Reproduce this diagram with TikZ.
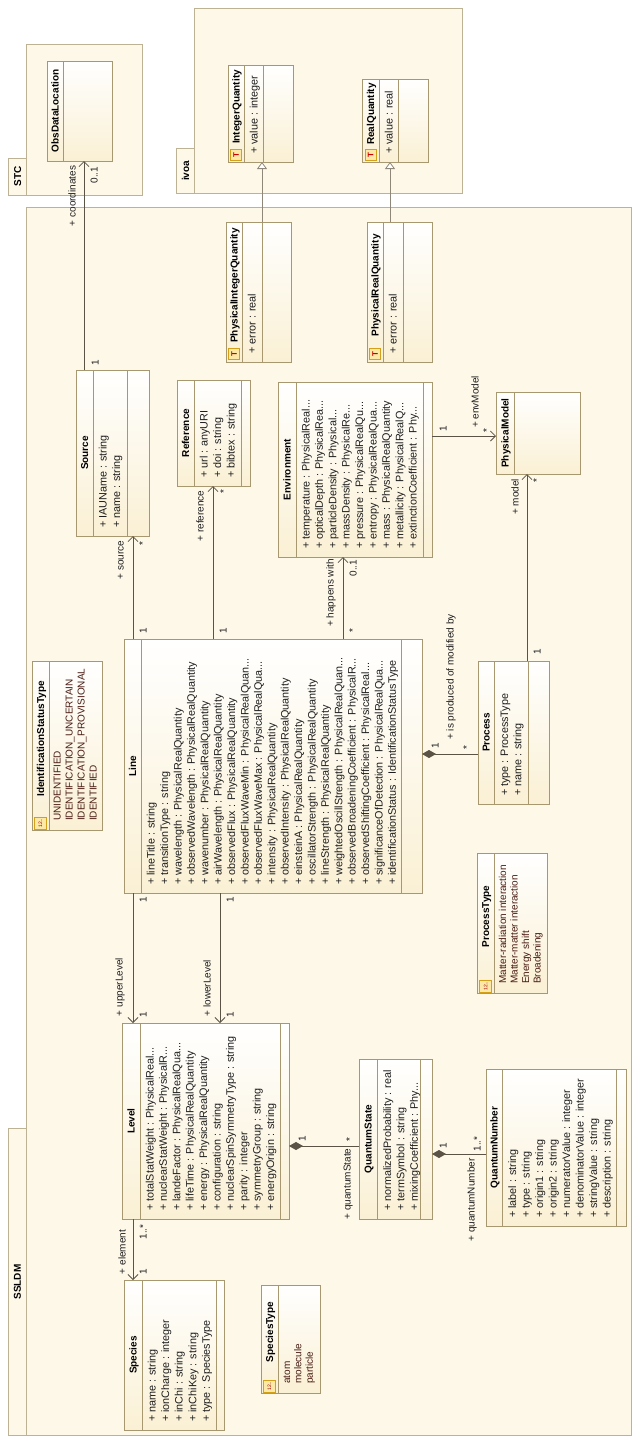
\documentclass[tikz,border=0pt]{standalone}
\usepackage{fontspec}
\setmainfont{Liberation Sans}
\usetikzlibrary{arrows.meta}
\definecolor{pkgfill}{HTML}{FEF8E9}
\definecolor{pkgline}{HTML}{BDB394}
\definecolor{clsline}{HTML}{A89870}
\definecolor{clsbot}{HTML}{FAF0D4}
\definecolor{conn}{HTML}{5A5346}
\definecolor{gen}{HTML}{8F887A}
\definecolor{txt}{HTML}{1E1E1E}
\definecolor{lit}{HTML}{4A1C14}
\definecolor{icoline}{HTML}{D4A017}
\definecolor{icofill}{HTML}{FCE9A8}
\newcommand{\attrfont}{\fontsize{10.8}{13}\selectfont}
\newcommand{\litfont}{\fontsize{10}{12}\selectfont}
\newcommand{\lblfont}{\fontsize{10}{12}\selectfont}
\newcommand{\ttlfont}{\fontsize{10}{12}\selectfont\bfseries}
\newcommand{\ddd}{.{}.{}.}
\tikzset{
  pkg/.style={draw=pkgline, fill=pkgfill, line width=0.9pt, inner sep=0pt, outer sep=0pt},
  cls/.style={draw=clsline, top color=white, bottom color=clsbot, line width=0.9pt, inner sep=0pt, outer sep=0pt},
  clsrule/.style={draw=clsline, line width=0.8pt},
  ctitle/.style={rotate=90, inner sep=0pt, font=\ttlfont, text=black, text height=7.2pt, text depth=0pt, anchor=center},
  cattr/.style={rotate=90, inner sep=0pt, font=\attrfont, text=txt, anchor=base west},
  clit/.style={rotate=90, inner sep=0pt, font=\litfont, text=lit, anchor=base west},
  lbl/.style={rotate=90, inner sep=0pt, font=\lblfont, text=txt, text height=7pt, text depth=0pt, anchor=center},
  assoc/.style={draw=conn, line width=0.8pt, -{Straight Barb[length=5pt,width=10pt]}},
  comp/.style={draw=conn, line width=0.8pt, {Diamond[length=14pt,width=8pt]}-},
  genl/.style={draw=gen, line width=0.8pt, -{Triangle[open,length=7pt,width=10pt,fill=white]}},
  dticon/.style={rotate=90, draw=icoline, fill=icofill, line width=0.8pt, minimum size=11pt, inner sep=0pt, text=red!80!black, font=\fontsize{8}{8}\selectfont\bfseries},
  enicon/.style={rotate=90, draw=icoline, fill=icofill, line width=0.8pt, minimum size=12pt, inner sep=0pt, text=red!60!black, font=\fontsize{5}{5}\selectfont},
}
% #1 id, #2 x1, #3 y1, #4 x2, #5 y2, #6 first separator, #7 second separator (may be empty)
\newcommand{\umlframe}[7]{%
  \pgfmathsetmacro{\cW}{#4-#2}%
  \pgfmathsetmacro{\cH}{#5-#3}%
  \pgfmathsetmacro{\cX}{(#2+#4)/2}%
  \pgfmathsetmacro{\cY}{-(#3+#5)/2}%
  \node[cls, minimum width=\cW pt, minimum height=\cH pt] (#1) at (\cX,\cY) {};
  \draw[clsrule] (#6,-#3) -- (#6,-#5);
  \ifx&#7&\else\draw[clsrule] (#7,-#3) -- (#7,-#5);\fi
}
% #1 id, #2 style, #3 first baseline x, #4 step, #5 start y, #6 list
\newcommand{\umltexts}[6]{%
  \foreach \itm [count=\idx] in {#6} {%
    \pgfmathsetmacro{\aX}{#3+(\idx-1)*#4}%
    \node[#2] (#1-\idx) at (\aX,-#5) {\itm};
  }%
}
\begin{document}
\begin{tikzpicture}[x=1pt,y=1pt]
\useasboundingbox (0,0) rectangle (636,-1438);
% ---------- packages ----------
\node[pkg, minimum width=115.6pt, minimum height=150.7pt] (stc) at (84.5,-119.65) {};
\node[pkg, minimum width=18.4pt, minimum height=36.7pt] (stctab) at (17.5,-176.65) {};
\node[ctitle] (stclbl) at (17.5,-176.65) {STC};
\node[pkg, minimum width=268.4pt, minimum height=185pt] (ivoa) at (328.5,-100.8) {};
\node[pkg, minimum width=17.6pt, minimum height=45pt] (ivoatab) at (185.5,-170.8) {};
\node[ctitle] (ivoalbl) at (185.5,-170.8) {ivoa};
\node[pkg, minimum width=605pt, minimum height=1228pt] (ssldm) at (328.5,-821.3) {};
\node[pkg, minimum width=17.7pt, minimum height=306.6pt] (ssldmtab) at (17.15,-1282) {};
\node[ctitle] (ssldmlbl) at (17.15,-1282) {SSLDM};
% ---------- classes ----------
\umlframe{cObs}{47}{61}{112}{161}{63}{}
\node[ctitle] (cObs-t) at (55,-111) {ObsDataLocation};

\umlframe{cIQ}{228}{65}{293}{162}{244}{263}
\node[dticon] (cIQ-i) at (236,-155) {T};
\node[ctitle] (cIQ-t) at (236,-107) {IntegerQuantity};
\umltexts{cIQ}{cattr}{257.7}{13.4}{154}{+ value : integer}

\umlframe{cRQ}{362}{79}{428}{162}{379}{398}
\node[dticon] (cRQ-i) at (370.5,-155) {T};
\node[ctitle] (cRQ-t) at (370.5,-114) {RealQuantity};
\umltexts{cRQ}{cattr}{392.7}{13.4}{154}{+ value : real}

\umlframe{cPIQ}{226}{222}{291}{362}{242}{262}
\node[dticon] (cPIQ-i) at (234,-354) {T};
\node[ctitle] (cPIQ-t) at (234,-285.5) {PhysicalIntegerQuantity};
\umltexts{cPIQ}{cattr}{255.7}{13.4}{354}{+ error : real}

\umlframe{cPRQ}{367}{222}{432}{362}{383}{403}
\node[dticon] (cPRQ-i) at (375,-354) {T};
\node[ctitle] (cPRQ-t) at (375,-285.5) {PhysicalRealQuantity};
\umltexts{cPRQ}{cattr}{396.7}{13.4}{354}{+ error : real}

\umlframe{cSrc}{76}{370}{149}{536}{93}{127}
\node[ctitle] (cSrc-t) at (84.5,-453) {Source};
\umltexts{cSrc}{cattr}{106.7}{13.4}{528}{+ IAUName : string, + name : string}

\umlframe{cRef}{177}{380}{250}{486}{194}{241}
\node[ctitle] (cRef-t) at (185.5,-433) {Reference};
\umltexts{cRef}{cattr}{207.7}{13.4}{478}{+ url : anyURI, + doi : string, + bibtex : string}

\umlframe{cEnv}{278}{382}{432}{557}{296}{423}
\node[ctitle] (cEnv-t) at (287,-469.5) {Environment};
\umltexts{cEnv}{cattr}{309.5}{13.4}{549}{+ temperature : PhysicalReal\ddd, + opticalDepth : PhysicalRea\ddd, + particleDensity : Physical\ddd, + massDensity : PhysicalRe\ddd, + pressure : PhysicalRealQu\ddd, + entropy : PhysicalRealQua\ddd, + mass : PhysicalRealQuantity, + metallicity : PhysicalRealQ\ddd, + extinctionCoefficient : Phy\ddd}

\umlframe{cPM}{496}{392}{580}{474}{514}{}
\node[ctitle] (cPM-t) at (505,-433) {PhysicalModel};

\umlframe{cLine}{124}{639}{422}{893}{141}{401}
\node[ctitle] (cLine-t) at (132.5,-766) {Line};
\umltexts{cLine}{cattr}{154.7}{13.4}{885}{+ lineTitle : string, + transitionType : string, + wavelength : PhysicalRealQuantity, + observedWavelength : PhysicalRealQuantity, + wavenumber : PhysicalRealQuantity, + airWavelength : PhysicalRealQuantity, + observedFlux : PhysicalRealQuantity, + observedFluxWaveMin : PhysicalRealQuan\ddd, + observedFluxWaveMax : PhysicalRealQua\ddd, + intensity : PhysicalRealQuantity, + observedIntensity : PhysicalRealQuantity, + einsteinA : PhysicalRealQuantity, + oscillatorStrength : PhysicalRealQuantity, + lineStrength : PhysicalRealQuantity, + weightedOscillStrength : PhysicalRealQuan\ddd, + observedBroadeningCoefficient : PhysicalR\ddd, + observedShiftingCoefficient : PhysicalReal\ddd, + significanceOfDetection : PhysicalRealQua\ddd, + identificationStatus : IdentificationStatusType}

\umlframe{cIST}{32}{661}{102}{830}{49}{}
\node[enicon] (cIST-i) at (40.5,-823) {12..};
\node[ctitle] (cIST-t) at (40.5,-739) {IdentificationStatusType};
\umltexts{cIST}{clit}{60.5}{12}{821}{UNIDENTIFIED, IDENTIFICATION\_UNCERTAIN, IDENTIFICATION\_PROVISIONAL, IDENTIFIED}

\umlframe{cLvl}{122}{1023}{289}{1219}{140}{280}
\node[ctitle] (cLvl-t) at (131,-1121) {Level};
\umltexts{cLvl}{cattr}{153.5}{13.4}{1211}{+ totalStatWeight : PhysicalReal\ddd, + nuclearStatWeight : PhysicalR\ddd, + landeFactor : PhysicalRealQua\ddd, + lifeTime : PhysicalRealQuantity, + energy : PhysicalRealQuantity, + configuration : string, + nuclearSpinSymmetryType : string, + parity : integer, + symmetryGroup : string, + energyOrigin : string}

\umlframe{cSpc}{124}{1280}{224}{1430}{142}{216}
\node[ctitle] (cSpc-t) at (133,-1355) {Species};
\umltexts{cSpc}{cattr}{155.5}{13.6}{1422}{+ name : string, + ionCharge : integer, + inChi : string, + inChiKey : string, + type : SpeciesType}

\umlframe{cSpT}{261}{1285}{320}{1393}{278}{}
\node[enicon] (cSpT-i) at (269.5,-1386) {12..};
\node[ctitle] (cSpT-t) at (269.5,-1332) {SpeciesType};
\umltexts{cSpT}{clit}{290}{11.4}{1384}{atom, molecule, particle}

\umlframe{cQS}{359}{1059}{432}{1219}{377}{420}
\node[ctitle] (cQS-t) at (368,-1139) {QuantumState};
\umltexts{cQS}{cattr}{391}{13.4}{1211}{+ normalizedProbability : real, + termSymbol : string, + mixingCoefficient : Phy\ddd}

\umlframe{cQN}{486}{1069}{626}{1226}{502}{616}
\node[ctitle] (cQN-t) at (494,-1147.5) {QuantumNumber};
\umltexts{cQN}{cattr}{516}{13.5}{1218}{+ label : string, + type : string, + origin1 : string, + origin2 : string, + numeratorValue : integer, + denominatorValue : integer, + stringValue : string, + description : string}

\umlframe{cProc}{478}{661}{549}{804}{494}{528}
\node[ctitle] (cProc-t) at (486,-732.5) {Process};
\umltexts{cProc}{cattr}{508}{13.4}{796}{+ type : ProcessType, + name : string}

\umlframe{cPT}{477}{853}{547}{993}{494}{}
\node[enicon] (cPT-i) at (485.5,-986) {12..};
\node[ctitle] (cPT-t) at (485.5,-916.5) {ProcessType};
\umltexts{cPT}{clit}{506}{11.5}{984}{Matter-radiation interaction, Matter-matter interaction, Energy shift, Broadening}
% ---------- connectors ----------
\draw[assoc] ([xshift=8pt]cSrc.north west) -- ([xshift=37pt]cObs.south west);
\draw[assoc] ([xshift=9pt]cLine.north west) -- ([xshift=57pt]cSrc.south west);
\draw[assoc] ([xshift=89pt]cLine.north west) -- ([xshift=36pt]cRef.south west);
\draw[assoc] ([xshift=219pt]cLine.north west) -- ([xshift=65pt]cEnv.south west);
\draw[assoc] ([yshift=-54pt]cEnv.north east) -- ([yshift=-44pt]cPM.north west);
\draw[assoc] ([xshift=49pt]cProc.north west) -- ([xshift=31pt]cPM.south west);
\draw[comp] ([yshift=-115pt]cLine.north east) -- ([yshift=-93pt]cProc.north west);
\draw[assoc] ([xshift=9pt]cLine.south west) -- ([xshift=11pt]cLvl.north west);
\draw[assoc] ([xshift=96pt]cLine.south west) -- ([xshift=98pt]cLvl.north west);
\draw[assoc] ([xshift=11pt]cLvl.south west) -- ([xshift=9pt]cSpc.north west);
\draw[comp] ([yshift=-123pt]cLvl.north east) -- ([yshift=-87pt]cQS.north west);
\draw[comp] ([yshift=-95pt]cQS.north east) -- ([yshift=-85pt]cQN.north west);
\draw[genl] ([xshift=36pt]cPIQ.north west) -- ([xshift=34pt]cIQ.south west);
\draw[genl] ([xshift=23pt]cPRQ.north west) -- ([xshift=28pt]cRQ.south west);
% ---------- connector labels ----------
\node[lbl] (l1a) at (72,-196) {+ coordinates};
\node[lbl] (l1b) at (94,-175) {0..1};
\node[lbl] (l1c) at (95,-363) {1};
\node[lbl] (l2a) at (120,-560) {+ source};
\node[lbl] (l2b) at (142.5,-544) {*};
\node[lbl] (l2c) at (143,-631) {1};
\node[lbl] (l3a) at (200,-516) {+ reference};
\node[lbl] (l3b) at (223.5,-492) {*};
\node[lbl] (l3c) at (223,-631) {1};
\node[lbl] (l4a) at (330,-593) {+ happens with};
\node[lbl] (l4b) at (353,-568) {0..1};
\node[lbl] (l4c) at (352.5,-631) {*};
\node[lbl] (l5a) at (443,-429) {1};
\node[lbl] (l5b) at (475,-402) {+ envModel};
\node[lbl] (l5c) at (486.5,-431) {*};
\node[lbl] (l6a) at (515,-497) {+ model};
\node[lbl] (l6b) at (536.5,-481) {*};
\node[lbl] (l6c) at (537,-652) {1};
\node[lbl] (l7a) at (435,-746) {1};
\node[lbl] (l7b) at (466.5,-748) {*};
\node[lbl] (l7c) at (450,-677) {+ is produced of modified by};
\node[lbl] (l8a) at (119,-987) {+ upperLevel};
\node[lbl] (l8b) at (143,-900) {1};
\node[lbl] (l8c) at (143,-1015) {1};
\node[lbl] (l9a) at (207,-988) {+ lowerLevel};
\node[lbl] (l9b) at (230,-900) {1};
\node[lbl] (l9c) at (230,-1015) {1};
\node[lbl] (l10a) at (122,-1252) {+ element};
\node[lbl] (l10b) at (143,-1232) {1..*};
\node[lbl] (l10c) at (143,-1272) {1};
\node[lbl] (l11a) at (302,-1139) {1};
\node[lbl] (l11b) at (349.5,-1140) {*};
\node[lbl] (l11c) at (347,-1184) {+ quantumState};
\node[lbl] (l12a) at (443,-1146) {1};
\node[lbl] (l12b) at (477,-1144) {1..*};
\node[lbl] (l12c) at (471,-1200) {+ quantumNumber};
\end{tikzpicture}
\end{document}
